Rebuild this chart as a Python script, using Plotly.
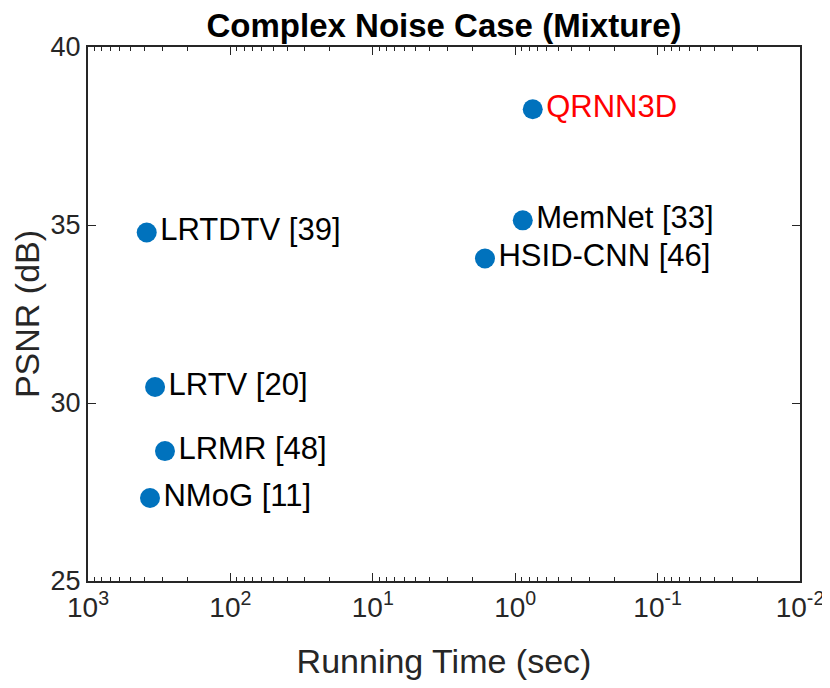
import plotly.graph_objects as go

methods = ["QRNN3D", "MemNet [33]", "HSID-CNN [46]", "LRTDTV [39]", "LRTV [20]", "LRMR [48]", "NMoG [11]"]
run_time = [0.753, 0.885, 1.63, 387, 338, 288, 367]
psnr = [38.25, 35.13, 34.06, 34.79, 30.45, 28.65, 27.33]
label_colors = ["#FF0000", "black", "black", "black", "black", "black", "black"]

x_tickvals = [1e3, 1e2, 1e1, 1e0, 1e-1, 1e-2]
x_ticktext = ["10<sup>3</sup>", "10<sup>2</sup>", "10<sup>1</sup>", "10<sup>0</sup>", "10<sup>-1</sup>", "10<sup>-2</sup>"]
y_tickvals = [25, 30, 35, 40]

minor_vals = [m * 10 ** e for e in range(-2, 3) for m in range(2, 10)]

font_family = "Liberation Sans, Arial, sans-serif"

fig = go.Figure()
fig.add_trace(go.Scatter(
    x=run_time, y=psnr, mode="markers+text",
    text=methods, textposition="middle right",
    textfont=dict(family=font_family, size=31, color=label_colors),
    marker=dict(color="#0072BD", size=20, line=dict(width=0)),
    cliponaxis=False, showlegend=False,
))

fig.update_layout(
    width=830, height=688,
    margin=dict(l=80, r=38, t=39, b=115),
    paper_bgcolor="white", plot_bgcolor="white",
    font=dict(family=font_family, size=28, color="#262626"),
    title=dict(text="<b>Complex Noise Case (Mixture)</b>", x=0.5, xanchor="center",
               xref="paper", yref="container", y=0.975, yanchor="middle",
               font=dict(family=font_family, size=33, color="black")),
)

fig.update_xaxes(
    type="log", range=[3, -2],
    tickvals=x_tickvals, ticktext=x_ticktext,
    ticks="inside", ticklen=8, tickwidth=1, tickcolor="#262626",
    minor=dict(tickvals=minor_vals, ticks="inside", ticklen=4, tickcolor="#262626", showgrid=False),
    showline=True, linecolor="#262626", linewidth=2, mirror="allticks",
    showgrid=False, zeroline=False,
    tickfont=dict(size=28, color="#262626"),
    title=dict(text="Running Time (sec)", font=dict(size=34, color="#262626"), standoff=28),
)
fig.update_yaxes(
    range=[25, 40], tickvals=y_tickvals,
    ticks="inside", ticklen=8, tickwidth=1, tickcolor="#262626",
    showline=True, linecolor="#262626", linewidth=2, mirror="allticks",
    showgrid=False, zeroline=False,
    tickfont=dict(size=27, color="#262626"),
    title=dict(text="PSNR (dB)", font=dict(size=34, color="#262626"), standoff=6),
)

fig.write_html("out.html")
